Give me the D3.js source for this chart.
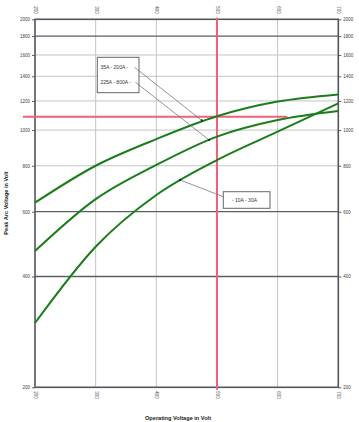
<!DOCTYPE html>
<html>
<head>
<meta charset="utf-8">
<script src="https://cdn.jsdelivr.net/npm/d3@7/dist/d3.min.js"></script>
<style>
  html, body { margin: 0; padding: 0; background: #fff; }
  svg { display: block; }
  text { font-family: "Liberation Sans", Arial, sans-serif; }
</style>
</head>
<body>
<script>
// ---- data ----
const voltages = [200, 300, 400, 500, 600, 700];
const curve35to200 = [635, 800, 945, 1090, 1195, 1250];
const curve225to800 = [469, 649, 804, 960, 1065, 1127];
const curve10to30 = [299, 482, 666, 829, 990, 1182];
const xTicks = [200, 300, 400, 500, 600, 700];
const yTicks = [200, 400, 600, 800, 1000, 1200, 1400, 1600, 1800, 2000];
const yMajorGrid = [400, 600, 1800];
const seriesNames = ["35A - 200A -", "225A - 800A -", "- 10A - 30A"];
// red marker lines
const markerVoltage = 500;
const markerPeak = 1087;
const markerHFrom = 180;
const markerHTo = 616;
// leader targets (voltage, peak)
const leader1Target = [475, 1062];
const leader2Target = [487, 940];
const leader3Target = [439, 732];

const W = 359, H = 422;
const margin = { left: 35, right: 20.7, top: 19.3, bottom: 34.7 };

const svg = d3.select("body").append("svg").attr("width", W).attr("height", H);

const x = d3.scaleLinear().domain([200, 700]).range([margin.left, W - margin.right]);
const y = d3.scaleLog().domain([200, 2000]).range([H - margin.bottom, margin.top]);

const grid = svg.append("g");
// vertical grid
grid.selectAll("line.vg").data(xTicks.slice(1, -1)).join("line")
  .attr("x1", d => x(d)).attr("x2", d => x(d))
  .attr("y1", y(2000)).attr("y2", y(200))
  .attr("stroke", "#c4c4c4").attr("stroke-width", 1);
// horizontal grid
grid.selectAll("line.hg").data(yTicks.slice(1, -1)).join("line")
  .attr("x1", x(200)).attr("x2", x(700))
  .attr("y1", d => y(d)).attr("y2", d => y(d))
  .attr("stroke", d => yMajorGrid.includes(d) ? "#5a5f64" : "#c4c4c4")
  .attr("stroke-width", d => yMajorGrid.includes(d) ? 1.3 : 1);

// axes (labels on all four sides)
const fmt = d3.format("d");
const axL = svg.append("g").attr("transform", `translate(${x(200)},0)`)
  .call(d3.axisLeft(y).tickValues(yTicks).tickFormat(fmt).tickSize(3).tickPadding(2));
const axR = svg.append("g").attr("transform", `translate(${x(700)},0)`)
  .call(d3.axisRight(y).tickValues(yTicks).tickFormat(fmt).tickSize(3).tickPadding(2));
const axB = svg.append("g").attr("transform", `translate(0,${y(200)})`)
  .call(d3.axisBottom(x).tickValues(xTicks).tickFormat(fmt).tickSize(0).tickPadding(0));
const axT = svg.append("g").attr("transform", `translate(0,${y(2000)})`)
  .call(d3.axisTop(x).tickValues(xTicks).tickFormat(fmt).tickSize(0).tickPadding(0));
[axL, axR, axB, axT].forEach(a => {
  a.select(".domain").remove();
  a.selectAll(".tick line").attr("stroke", "#5a5f64");
  a.selectAll("text").attr("font-size", 4.5).attr("fill", "#444");
});
axB.selectAll(".tick line").remove();
axT.selectAll(".tick line").remove();
axB.selectAll("text").attr("transform", "translate(0,4) rotate(90)")
  .attr("text-anchor", "start").attr("dy", "0.32em").attr("x", 0).attr("y", 0);
axT.selectAll("text").attr("transform", "translate(0,-13) rotate(90)")
  .attr("text-anchor", "start").attr("dy", "0.32em").attr("x", 0).attr("y", 0);

// border
svg.append("rect")
  .attr("x", x(200)).attr("y", y(2000))
  .attr("width", x(700) - x(200)).attr("height", y(200) - y(2000))
  .attr("fill", "none").attr("stroke", "#50565c").attr("stroke-width", 1.6);

// red marker lines
svg.append("line")
  .attr("x1", x(markerHFrom)).attr("x2", x(markerHTo))
  .attr("y1", y(markerPeak)).attr("y2", y(markerPeak))
  .attr("stroke", "#f0607a").attr("stroke-width", 2);
svg.append("line")
  .attr("x1", x(markerVoltage)).attr("x2", x(markerVoltage))
  .attr("y1", y(2000) - 1.5).attr("y2", y(200) + 2.5)
  .attr("stroke", "#f0607a").attr("stroke-width", 2);

// curves
const line = d3.line().x(d => x(d[0])).y(d => y(d[1])).curve(d3.curveMonotoneX);
[curve35to200, curve225to800, curve10to30].forEach(vals => {
  svg.append("path")
    .datum(voltages.map((v, i) => [v, vals[i]]))
    .attr("d", line)
    .attr("fill", "none").attr("stroke", "#1a7d1a").attr("stroke-width", 2);
});

// label boxes
const box1 = svg.append("g");
box1.append("rect").attr("x", 97.3).attr("y", 57.3).attr("width", 41.7).attr("height", 35.4)
  .attr("fill", "#fff").attr("stroke", "#666").attr("stroke-width", 1);
box1.append("text").attr("x", 100.5).attr("y", 68.8).attr("font-size", 5).attr("fill", "#333").text(seriesNames[0]);
box1.append("text").attr("x", 100.5).attr("y", 83.5).attr("font-size", 5).attr("fill", "#333").text(seriesNames[1]);

const box2 = svg.append("g");
box2.append("rect").attr("x", 223.3).attr("y", 191.7).attr("width", 46.7).attr("height", 16.6)
  .attr("fill", "#fff").attr("stroke", "#666").attr("stroke-width", 1);
box2.append("text").attr("x", 232).attr("y", 202).attr("font-size", 5).attr("fill", "#333").text(seriesNames[2]);

// leader lines
const leaders = [
  [[134.5, 67.3], leader1Target],
  [[135.5, 82.3], leader2Target],
  [[223.3, 196.7], leader3Target]
];
leaders.forEach(([p, t]) => {
  svg.append("line").attr("x1", p[0]).attr("y1", p[1])
    .attr("x2", x(t[0])).attr("y2", y(t[1]))
    .attr("stroke", "#777").attr("stroke-width", 0.8);
  svg.append("circle").attr("cx", x(t[0])).attr("cy", y(t[1])).attr("r", 1.1).attr("fill", "#222");
});

// axis titles
svg.append("text")
  .attr("transform", `translate(8,203) rotate(-90)`)
  .attr("text-anchor", "middle").attr("font-size", 5.6).attr("font-weight", "bold").attr("fill", "#222")
  .text("Peak Arc Voltage in Volt");
svg.append("text")
  .attr("x", 178).attr("y", 420)
  .attr("text-anchor", "middle").attr("font-size", 5.6).attr("font-weight", "bold").attr("fill", "#222")
  .text("Operating Voltage in Volt");
</script>
</body>
</html>
